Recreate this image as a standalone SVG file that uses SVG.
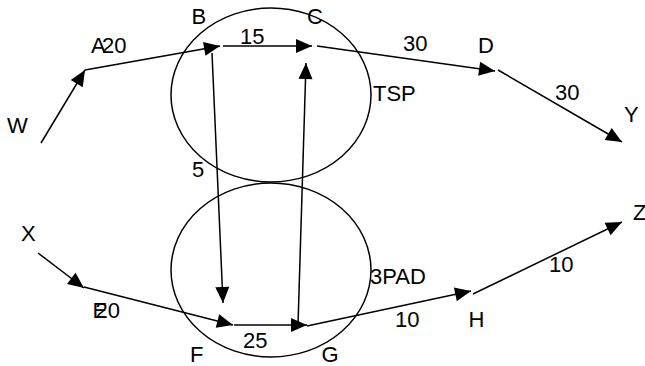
<svg xmlns="http://www.w3.org/2000/svg" width="645" height="366" viewBox="0 0 645 366">
<style>
.c{fill:none;stroke:#000;stroke-width:1.5}
.l{fill:none;stroke:#000;stroke-width:1.5;marker-end:url(#ah)}
text{font-family:"Liberation Sans",Arial,sans-serif;font-size:22px;fill:#000}
</style>
<defs>
<marker id="ah" markerUnits="userSpaceOnUse" markerWidth="17" markerHeight="14" refX="16" refY="7" orient="auto" overflow="visible">
<path d="M0,0 L16,7 L0,14 z" fill="#000"/>
</marker>
</defs>
<rect width="645" height="366" fill="#fff"/>
<g id="TSP"><ellipse class="c" cx="271" cy="95" rx="100" ry="87"/><text x="373" y="100.5">TSP</text></g>
<g id="PAD"><ellipse class="c" cx="271" cy="270" rx="100" ry="87"/><text x="370" y="284">3PAD</text></g>
<g id="connectors">
<line class="l" x1="41" y1="143" x2="85" y2="70"/>
<line class="l" x1="85" y1="70" x2="220" y2="46"/>
<line class="l" x1="223" y1="46" x2="312" y2="46"/>
<line class="l" x1="317" y1="46" x2="495" y2="71"/>
<line class="l" x1="498" y1="70" x2="622" y2="142"/>
<line class="l" x1="212" y1="53" x2="223" y2="303"/>
<line class="l" x1="298" y1="325" x2="306" y2="63"/>
<line class="l" x1="38" y1="253" x2="84" y2="288"/>
<line class="l" x1="84" y1="287" x2="233" y2="325"/>
<line class="l" x1="234" y1="325" x2="307" y2="325"/>
<line class="l" x1="307" y1="326" x2="471" y2="291"/>
<line class="l" x1="473" y1="294" x2="622" y2="222"/>
</g>
<g id="labels">
<text x="102" y="53.3">20</text>
<text x="240" y="44">15</text>
<text x="403" y="50.5">30</text>
<text x="555" y="100">30</text>
<text x="192" y="176.7">5</text>
<text x="95.5" y="317.7">20</text>
<text x="243" y="347.7">25</text>
<text x="395" y="327.3">10</text>
<text x="549" y="271.7">10</text>
</g>
<g id="node-A"><text x="91" y="53.3">A</text></g>
<g id="node-B"><text x="191.5" y="23.5">B</text></g>
<g id="node-C"><text x="307" y="23.5">C</text></g>
<g id="node-D"><text x="478" y="53.3">D</text></g>
<g id="node-E"><text x="92.5" y="317.7">E</text></g>
<g id="node-F"><text x="190" y="361.7">F</text></g>
<g id="node-G"><text x="321.5" y="362">G</text></g>
<g id="node-H"><text x="468.5" y="326.7">H</text></g>
<g id="node-W"><text x="7" y="133">W</text></g>
<g id="node-X"><text x="21" y="241">X</text></g>
<g id="node-Y"><text x="624" y="121.7">Y</text></g>
<g id="node-Z"><text x="633" y="220">Z</text></g>
</svg>
